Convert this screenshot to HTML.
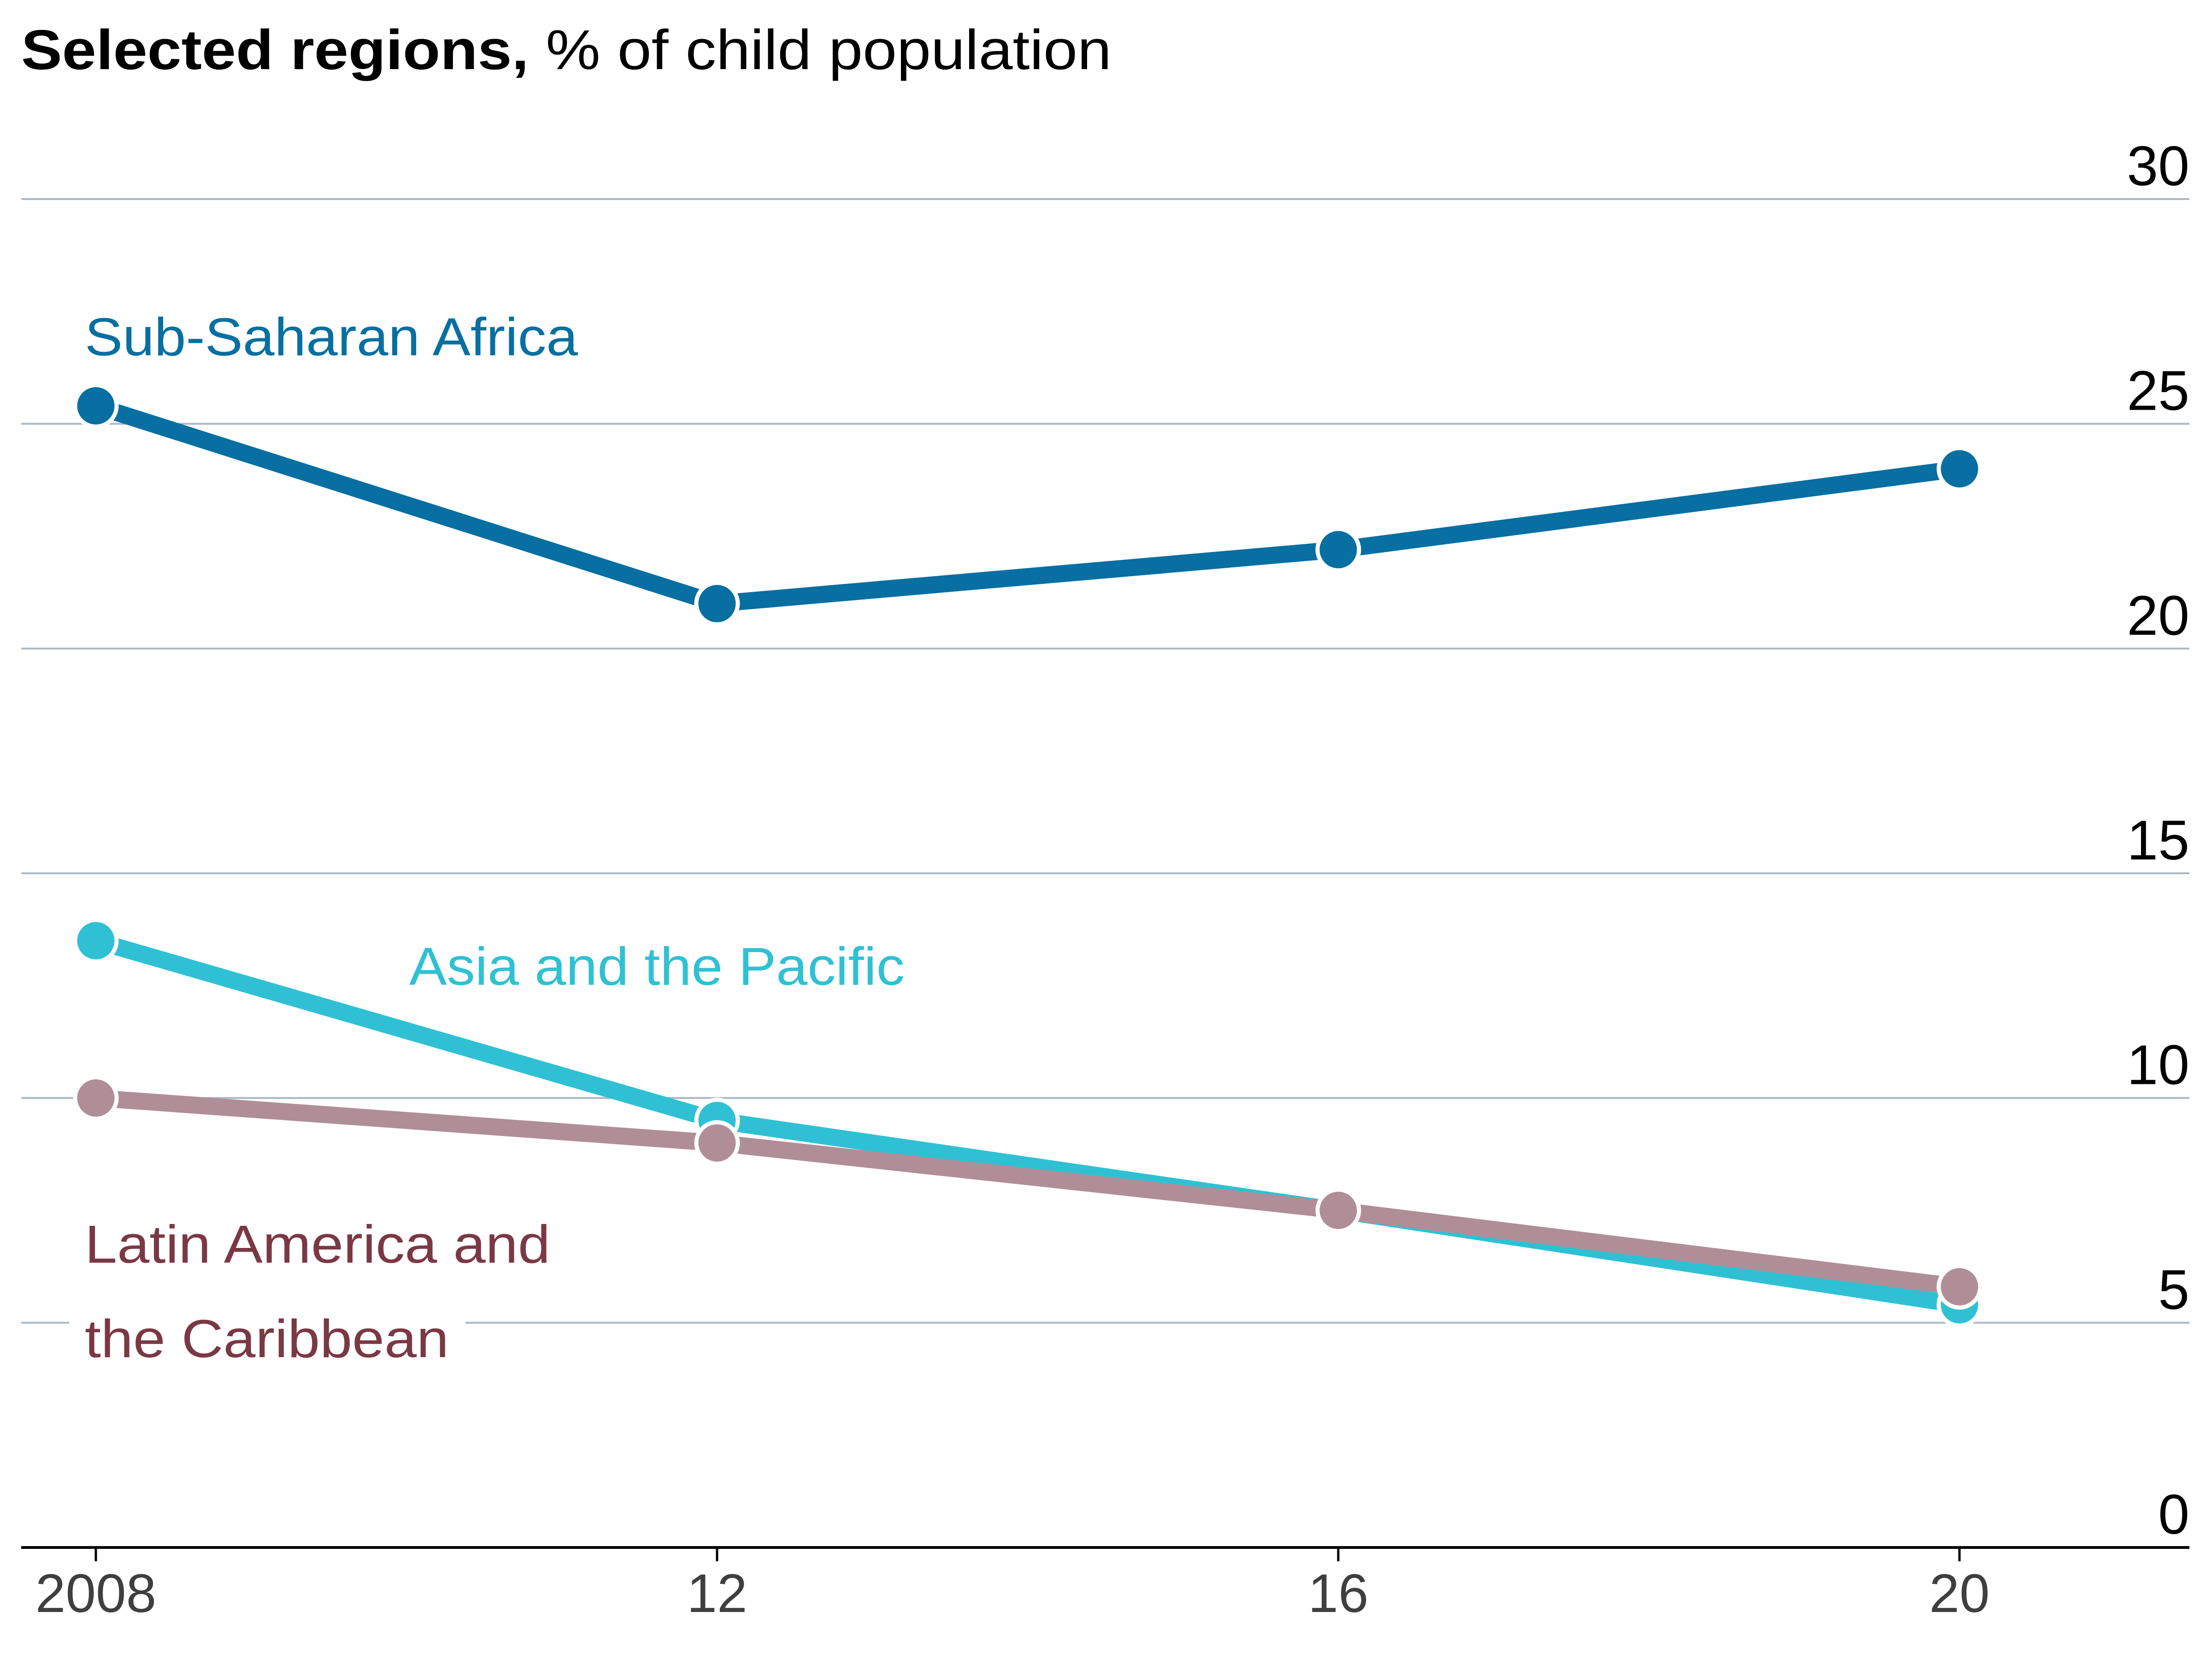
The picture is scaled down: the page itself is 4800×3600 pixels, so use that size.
<!DOCTYPE html>
<html><head><meta charset="utf-8"><style>
html,body{margin:0;padding:0;background:#fff;}
svg{display:block;font-family:"Liberation Sans",sans-serif;}
</style></head><body>
<svg id="chart" width="4800" height="3600" viewBox="0 0 4800 3600">
<text x="46" y="150" font-size="122" fill="#000" textLength="2366" lengthAdjust="spacingAndGlyphs"><tspan font-weight="bold">Selected regions,</tspan> % of child population</text>
<g id="grid"></g>
<g id="series"></g>
<g id="labels"></g>
</svg>
<script>
const years = ["2008","12","16","20"];
const yTicks = [0,5,10,15,20,25,30];
const ssa = [25.4, 21.0, 22.2, 24.0];
const asia = [13.5, 9.5, 7.5, 5.4];
const latam = [10.0, 9.0, 7.5, 5.8];

const NS = "http://www.w3.org/2000/svg";
const x0 = 208, x1 = 4252, yBase = 3358, yTop = 432;
function xs(i){ return x0 + i*(x1-x0)/(years.length-1); }
function ys(v){ return yBase - v*(yBase-yTop)/30; }
function mk(tag, attrs, parent){ const e=document.createElementNS(NS,tag); for(const k in attrs) e.setAttribute(k,attrs[k]); parent.appendChild(e); return e; }

const grid = document.getElementById('grid');
yTicks.forEach(t=>{
  const y = ys(t);
  const l = mk('line',{x1:46,x2:4751,y1:y,y2:y,stroke:t===0?'#000':'#a8b8c4','stroke-width':t===0?6:4},grid);
  
  
  const tx = mk('text',{x:4751,y:y-30,'text-anchor':'end','font-size':122,fill:'#000'},grid);
  tx.textContent = t;
  
  
});
years.forEach((yr,i)=>{
  const x = xs(i);
  const tk = mk('line',{x1:x,x2:x,y1:yBase,y2:yBase+30,stroke:'#000','stroke-width':5},grid);
  
  
  const tx = mk('text',{x:x,y:yBase+140,'text-anchor':'middle','font-size':118,fill:'#3f3f3f'},grid);
  tx.textContent = yr;
  
  
});

const seriesG = document.getElementById('series');
function drawSeries(vals, color, name){
  const g = mk('g',{},seriesG);
  
  
  const pts = vals.map((v,i)=>xs(i)+','+ys(v)).join(' ');
  const pl = mk('polyline',{points:pts,fill:'none',stroke:color,'stroke-width':37,'stroke-linejoin':'round'},g);
  
  
  vals.forEach((v,i)=>{
    const c = mk('circle',{cx:xs(i),cy:ys(v),r:45,fill:color,stroke:'#fff','stroke-width':9},g);
    
    
  });
}
drawSeries(ssa,'#076fa1','sub-saharan-africa');
drawSeries(asia,'#2fc1d3','asia-pacific');
drawSeries(latam,'#b08e98','latin-america');

const lab = document.getElementById('labels');
const bg = mk('rect',{x:150,y:2780,width:860,height:200,fill:'#fff'},lab);


function label(txt,x,y,color,name,len){
  const t = mk('text',{x:x,y:y,'font-size':116,fill:color,textLength:len,lengthAdjust:'spacingAndGlyphs'},lab);
  t.textContent = txt;
  
  
}
label('Sub-Saharan Africa',184,771,'#076fa1','label-sub-saharan-africa',1070);
label('Asia and the Pacific',888,2137,'#2fc1d3','label-asia-pacific',1075);
label('Latin America and',184,2740,'#7a3845','label-latin-america-line1',1010);
label('the Caribbean',184,2945,'#7a3845','label-latin-america-line2',790);
</script>
</body></html>
